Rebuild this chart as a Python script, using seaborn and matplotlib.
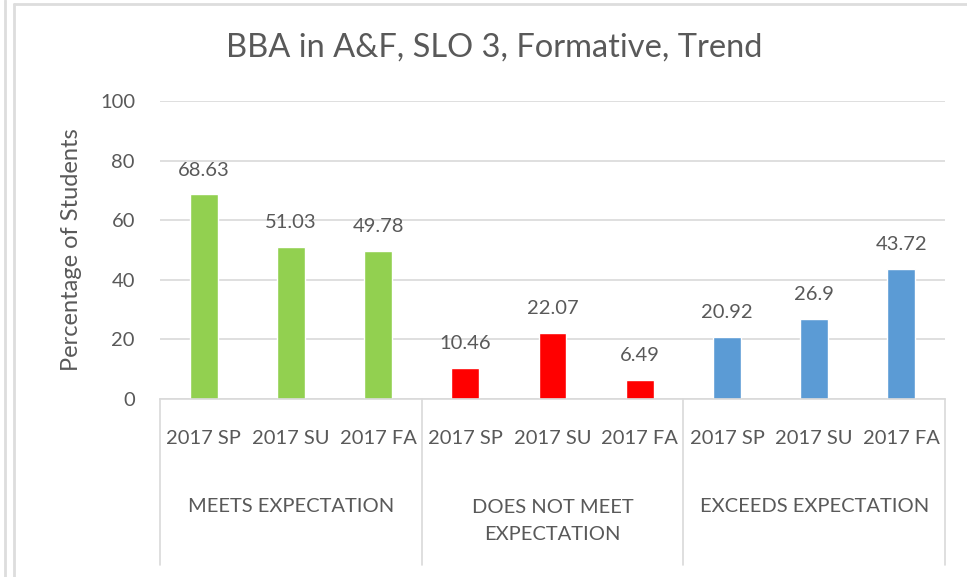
import matplotlib
matplotlib.use("Agg")
import matplotlib.pyplot as plt
import matplotlib.transforms as mtransforms
import pandas as pd
import seaborn as sns

groups = ["MEETS EXPECTATION", "DOES NOT MEET\nEXPECTATION", "EXCEEDS EXPECTATION"]
terms = ["2017 SP", "2017 SU", "2017 FA"]
meets = [68.63, 51.03, 49.78]
not_meet = [10.46, 22.07, 6.49]
exceeds = [20.92, 26.9, 43.72]
colors = ["#92D050", "#FF0000", "#5B9BD5"]

rows = []
for g, vals in zip(groups, [meets, not_meet, exceeds]):
    for t, v in zip(terms, vals):
        rows.append({"group": g, "term": t, "key": g + "|" + t, "value": v})
df = pd.DataFrame(rows)

sns.set_style("white")
plt.rcParams["font.family"] = ["Lato", "DejaVu Sans"]
txt = "#595959"
grid = "#D9D9D9"

fig = plt.figure(figsize=(9.67, 5.77), dpi=100)
ax = fig.add_axes([160 / 967, 1 - 399 / 577, 785 / 967, 298 / 577])

sns.barplot(data=df, x="key", y="value", hue="group", palette=colors,
            dodge=False, width=0.32, legend=False, ax=ax, saturation=1)

ax.set_ylim(0, 100)
ax.set_xlim(-0.5, 8.5)
ax.set_yticks(range(0, 101, 20))
ax.yaxis.grid(True, color=grid, linewidth=1.2)
ax.set_axisbelow(True)
for s in ["left", "right", "top"]:
    ax.spines[s].set_visible(False)
ax.spines["bottom"].set_color(grid)
ax.spines["bottom"].set_linewidth(1.2)

ax.set_xticks(range(len(df)))
ax.set_xticklabels(df["term"], fontsize=14.5, color=txt)
ax.tick_params(axis="x", length=0, pad=22.5)
ax.tick_params(axis="y", length=0, pad=18, labelsize=14.5, labelcolor=txt)
ax.set_xlabel("")
ax.set_ylabel("Percentage of Students", fontsize=17, color=txt, labelpad=13)

for i, v in enumerate(df["value"]):
    ax.annotate(f"{v:g}", (i, v), xytext=(0, 17.5), textcoords="offset points",
                ha="center", va="center", fontsize=14.5, color=txt)

trans = mtransforms.blended_transform_factory(ax.transData, ax.transAxes)
for xb in [-0.5, 2.5, 5.5, 8.5]:
    ax.plot([xb, xb], [0, -0.557], transform=trans, color=grid,
            linewidth=1.2, clip_on=False)
for k, g in enumerate(groups):
    yc = 521 if "\n" in g else 507
    ax.text(3 * k + 1, (399 - yc) / 298, g, transform=trans, ha="center",
            va="center", fontsize=14.5, color=txt, linespacing=1.65)

fig.suptitle("BBA in A&F, SLO 3, Formative, Trend", fontsize=23.5, color=txt,
             y=1 - 48 / 577, va="center", x=494 / 967)

# chart frame
fig.add_artist(plt.Line2D([5 / 967, 5 / 967], [0, 1], color="#DDDDDD", linewidth=2))
fig.add_artist(plt.Line2D([14 / 967, 14 / 967], [0, 1 - 4 / 577], color="#DDDDDD", linewidth=2))
fig.add_artist(plt.Line2D([14 / 967, 1], [1 - 4 / 577, 1 - 4 / 577], color="#DDDDDD", linewidth=2))

fig.savefig("out.png", dpi=100)
